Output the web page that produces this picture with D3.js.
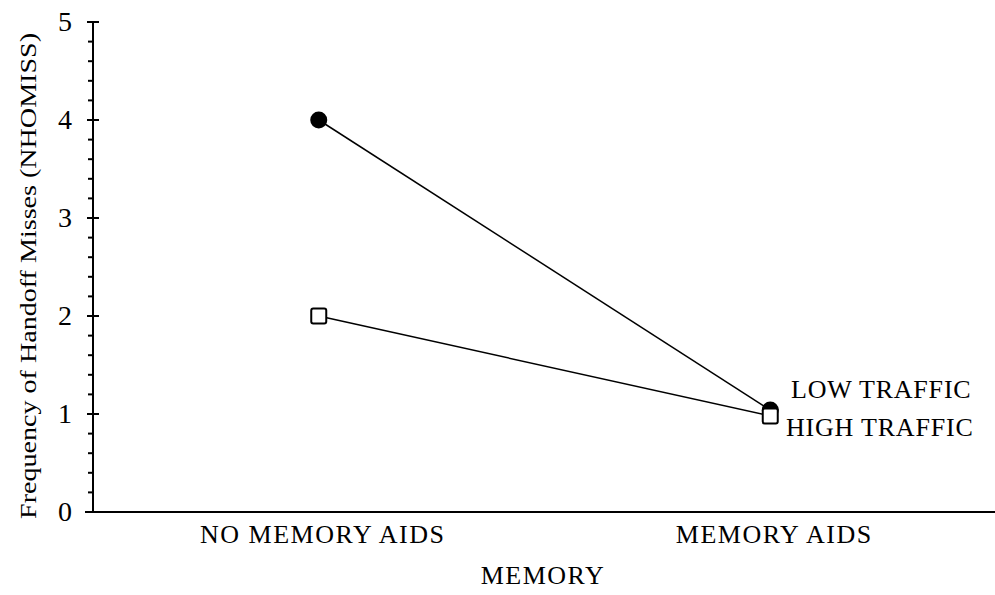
<!DOCTYPE html>
<html>
<head>
	<meta charset="utf-8">
	<script src="https://d3js.org/d3.v7.min.js"></script>
	<style>
		body { margin: 0; background: #fff; }
		text { font-family: "Liberation Serif", "Times New Roman", serif; fill: #000; }
	</style>
</head>
<body>
	<div id="chart"></div>

	<script type="text/javascript">
		// data
		var categories = ["NO MEMORY AIDS", "MEMORY AIDS"];
		var lowTraffic = [4.0, 1.04];
		var highTraffic = [2.0, 0.98];
		var seriesNames = ["LOW TRAFFIC", "HIGH TRAFFIC"];
		var yTicks = [0, 1, 2, 3, 4, 5];

		var width = 995, height = 595;
		var plotLeft = 93, plotRight = 996, plotTop = 22, plotBottom = 512;

		var svg = d3.select("#chart").append("svg")
			.attr("width", width)
			.attr("height", height);

		var xScale = d3.scalePoint()
			.domain(categories)
			.range([plotLeft, plotRight])
			.padding(0.5);

		var yScale = d3.scaleLinear()
			.domain([0, 5])
			.range([plotBottom, plotTop]);

		// minor ticks every 0.2
		var minor = d3.range(0, 5.001, 0.2).filter(function(v){
			return Math.abs(v - Math.round(v)) > 0.01;
		});
		svg.selectAll(".minor")
			.data(minor).enter().append("line")
			.attr("class", "minor")
			.attr("x1", plotLeft - 5).attr("x2", plotLeft)
			.attr("y1", function(d){ return yScale(d); })
			.attr("y2", function(d){ return yScale(d); })
			.attr("stroke", "#000").attr("stroke-width", 2);

		// major ticks cross the axis
		svg.selectAll(".major")
			.data(yTicks.filter(function(d){ return d > 0; })).enter().append("line")
			.attr("class", "major")
			.attr("x1", plotLeft - 6).attr("x2", plotLeft + 6)
			.attr("y1", function(d){ return yScale(d); })
			.attr("y2", function(d){ return yScale(d); })
			.attr("stroke", "#000").attr("stroke-width", 2);

		svg.selectAll(".ylab")
			.data(yTicks).enter().append("text")
			.attr("class", "ylab")
			.attr("x", 72)
			.attr("y", function(d){ return yScale(d) + 9; })
			.attr("text-anchor", "end")
			.style("font-size", "28px")
			.text(function(d){ return d; });

		// axis lines
		svg.append("line")
			.attr("x1", plotLeft).attr("x2", plotLeft)
			.attr("y1", yScale(5)).attr("y2", plotBottom + 1)
			.attr("stroke", "#000").attr("stroke-width", 2);
		svg.append("line")
			.attr("x1", plotLeft - 8).attr("x2", width)
			.attr("y1", plotBottom).attr("y2", plotBottom)
			.attr("stroke", "#000").attr("stroke-width", 2);

		// category labels
		svg.selectAll(".xlab")
			.data(categories).enter().append("text")
			.attr("class", "xlab")
			.attr("x", function(d){ return xScale(d) + 4; })
			.attr("y", 543)
			.attr("text-anchor", "middle")
			.style("font-size", "26px")
			.style("letter-spacing", "1.5px")
			.text(function(d){ return d; });

		svg.append("text")
			.attr("x", 543).attr("y", 584)
			.attr("text-anchor", "middle")
			.style("font-size", "26px")
			.style("letter-spacing", "1.5px")
			.text("MEMORY");

		svg.append("text")
			.attr("transform", "translate(36,276) rotate(-90)")
			.attr("text-anchor", "middle")
			.attr("textLength", 486)
			.attr("lengthAdjust", "spacingAndGlyphs")
			.style("font-size", "23px")
			.text("Frequency of Handoff Misses (NHOMISS)");

		var line = d3.line()
			.x(function(d, i){ return xScale(categories[i]); })
			.y(function(d){ return yScale(d); });

		svg.append("path").datum(lowTraffic)
			.attr("d", line).attr("fill", "none")
			.attr("stroke", "#000").attr("stroke-width", 1.5);
		svg.append("path").datum(highTraffic)
			.attr("d", line).attr("fill", "none")
			.attr("stroke", "#000").attr("stroke-width", 1.5);

		svg.selectAll(".low")
			.data(lowTraffic).enter().append("circle")
			.attr("class", "low")
			.attr("cx", function(d, i){ return xScale(categories[i]); })
			.attr("cy", function(d){ return yScale(d); })
			.attr("r", 8.5)
			.attr("fill", "#000");

		var sq = 15;
		svg.selectAll(".high")
			.data(highTraffic).enter().append("rect")
			.attr("class", "high")
			.attr("x", function(d, i){ return xScale(categories[i]) - sq / 2; })
			.attr("y", function(d){ return yScale(d) - sq / 2; })
			.attr("width", sq).attr("height", sq)
			.attr("rx", 2)
			.attr("fill", "#fff")
			.attr("stroke", "#000").attr("stroke-width", 2);

		// series labels at the end of the lines
		svg.selectAll(".slab")
			.data(seriesNames).enter().append("text")
			.attr("class", "slab")
			.attr("x", function(d, i){ return i == 0 ? 791 : 786; })
			.attr("y", function(d, i){ return i == 0 ? 398 : 436; })
			.style("font-size", "26px")
			.style("letter-spacing", "0.8px")
			.text(function(d){ return d; });
	</script>
</body>
</html>
